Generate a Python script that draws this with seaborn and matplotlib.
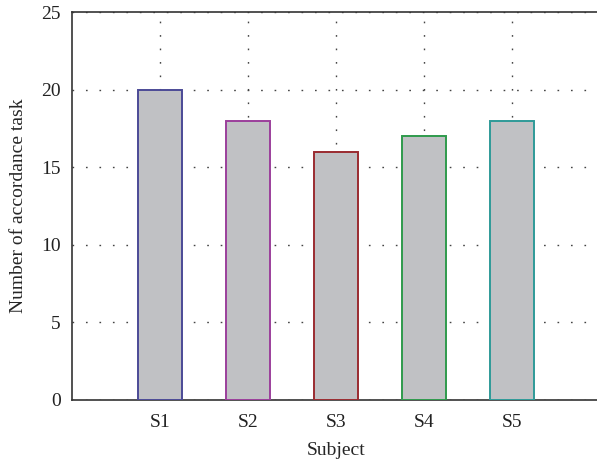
import seaborn as sns
import matplotlib.pyplot as plt

subjects = ['S1', 'S2', 'S3', 'S4', 'S5']
counts = [20, 18, 16, 17, 18]
edge_colors = ['#4b4a96', '#9b3f9b', '#9a2b30', '#2f9a4c', '#2f9a98']

sns.set_style('white')
plt.rcParams['font.family'] = ['Liberation Serif', 'DejaVu Serif']

fig = plt.figure(figsize=(5.97, 4.62), dpi=100)
ax = fig.add_axes([0.1206, 0.1342, 0.8844, 0.8398])

sns.barplot(x=subjects, y=counts, color='#c0c1c4', width=0.5,
            saturation=1, ax=ax, zorder=3)
for bar, c in zip(ax.patches, edge_colors):
    bar.set_edgecolor(c)
    bar.set_linewidth(1.4)

ax.set_xlim(-1, 5)
ax.set_ylim(0, 25)
ax.set_yticks([0, 5, 10, 15, 20, 25])

ax.grid(True, linestyle=(0, (1.2, 8.5)), color='#444444', linewidth=1.0, zorder=0)
ax.set_axisbelow(True)
for s in ax.spines.values():
    s.set_color('#333333')
    s.set_linewidth(1.2)
ax.tick_params(direction='in', length=4, labelsize=14, colors='#222222')
ax.tick_params(axis='y', pad=8)
ax.tick_params(axis='x', pad=10)

ax.set_xlabel('Subject', fontsize=14, labelpad=8)
ax.set_ylabel('Number of accordance task', fontsize=14, labelpad=10)

plt.savefig('out.png', dpi=100)
